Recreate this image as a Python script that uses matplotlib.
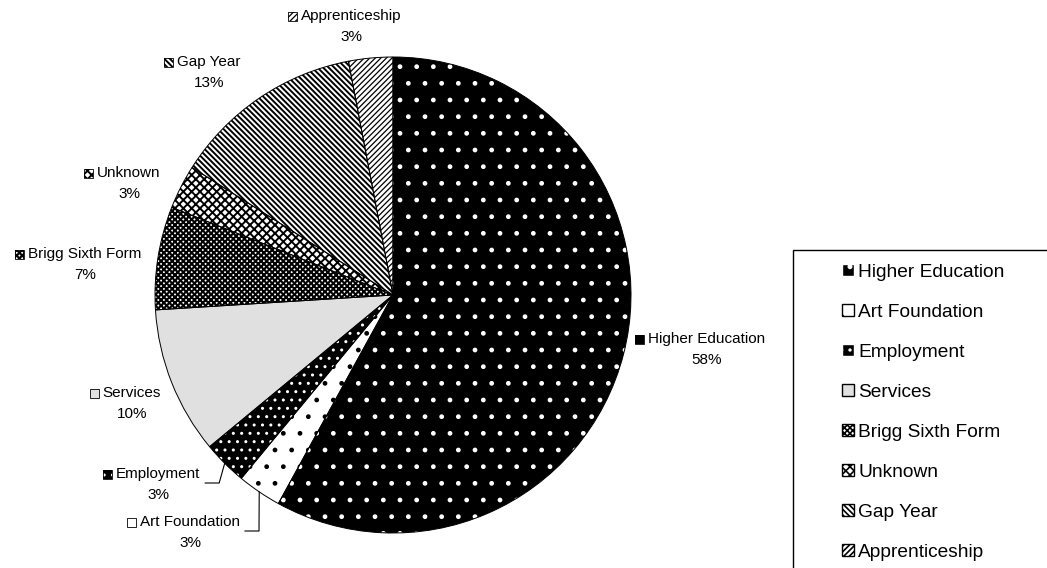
import matplotlib
matplotlib.use('Agg')
import matplotlib.pyplot as plt
from matplotlib.patches import Patch, Rectangle
import numpy as np

plt.rcParams['font.family'] = ['Liberation Sans', 'DejaVu Sans']
plt.rcParams['hatch.linewidth'] = 1.2

categories = ['Higher Education', 'Art Foundation', 'Employment', 'Services',
              'Brigg Sixth Form', 'Unknown', 'Gap Year', 'Apprenticeship']
shares = [58, 3, 3, 10, 7, 3, 13, 3]

# (face, hatch, hatch colour, hatch width) per slice, to mimic the
# grey-scale fill patterns of the original
styles = [('black', '.', 'white', 1.0),
          ('white', '.', 'black', 1.0),
          ('black', '..', 'white', 1.0),
          ('#e0e0e0', '', 'black', 1.0),
          ('white', 'x' * 6, 'black', 1.5),
          ('white', 'x' * 4, 'black', 1.4),
          ('white', '\\' * 6, 'black', 1.4),
          ('white', '/' * 6, 'black', 0.9)]

# where the slice labels sit (pixel centre of the name line)
label_pos = [(707, 339), (190, 522), (158, 474), (132, 393),
             (85, 254), (129, 173), (209, 62), (351, 16)]
leader_idx = [1, 2]

W, H = 1047, 568
CX, CY, R = 393, H - 295, 238


def set_hatch_width(p, lw):
    if hasattr(p, 'set_hatch_linewidth'):
        p.set_hatch_linewidth(lw)


fig = plt.figure(figsize=(W / 100, H / 100), dpi=100)
ax = fig.add_axes([0, 0, 1, 1])

# filled wedges (hatch colour comes from the edge colour, so no edge line)
wedges, _ = ax.pie(shares, startangle=90, counterclock=False, radius=R,
                   center=(CX, CY), wedgeprops=dict(linewidth=0))
for w, (face, hatch, hc, hlw) in zip(wedges, styles):
    w.set_facecolor(face)
    w.set_edgecolor(hc)
    w.set_hatch(hatch)
    w.set_linewidth(0)
    set_hatch_width(w, hlw)

# thin black outlines on top
ax.pie(shares, startangle=90, counterclock=False, radius=R, center=(CX, CY),
       wedgeprops=dict(fill=False, edgecolor='black', linewidth=0.7))

ax.set_xlim(0, W)
ax.set_ylim(0, H)
ax.set_aspect('equal')
ax.axis('off')

# slice labels
names = []
for (x, y), name, val in zip(label_pos, categories, shares):
    t = ax.text(x, H - y, name, ha='center', va='center', fontsize=11)
    ax.text(x, H - y - 21, f'{val}%', ha='center', va='center', fontsize=11)
    names.append(t)

fig.canvas.draw()
renderer = fig.canvas.get_renderer()

for i, t in enumerate(names):
    bb = t.get_window_extent(renderer)
    face, hatch, hc, hlw = styles[i]
    yc = (bb.y0 + bb.y1) / 2
    icon = Rectangle((bb.x0 - 13, yc - 4.5), 9, 9, facecolor=face,
                     edgecolor=hc, hatch=hatch, linewidth=0)
    set_hatch_width(icon, hlw)
    ax.add_patch(icon)
    ax.add_patch(Rectangle((bb.x0 - 13, yc - 4.5), 9, 9, fill=False,
                           edgecolor='black', linewidth=0.6))

# leader lines for the two thin slices at the bottom
for i in leader_idx:
    bb = names[i].get_window_extent(renderer)
    w = wedges[i]
    mid = np.deg2rad((w.theta1 + w.theta2) / 2)
    ex, ey = CX + R * np.cos(mid), CY + R * np.sin(mid)
    x0 = bb.x1 + 5
    y0 = bb.y0 - 2
    ax.plot([x0, x0 + 14, ex], [y0, y0, ey], color='black', linewidth=0.8)

# legend box runs off the right and bottom edges like the original
ax.add_patch(Rectangle((793, -10), 300, H - 250 + 10, fill=False,
                       edgecolor='black', linewidth=1.0))
handles = []
for f, h, hc, hlw in styles:
    p = Patch(facecolor=f, hatch=h, edgecolor=hc)
    set_hatch_width(p, hlw)
    handles.append(p)
fig.legend(handles, categories, loc='upper left',
           bbox_to_anchor=(842 / W, 1 - 264 / H), frameon=False,
           fontsize=13.8, handlelength=0.6, handleheight=0.6,
           handletextpad=0.25, labelspacing=1.2, borderpad=0,
           borderaxespad=0)

fig.savefig('out.png', dpi=100)
